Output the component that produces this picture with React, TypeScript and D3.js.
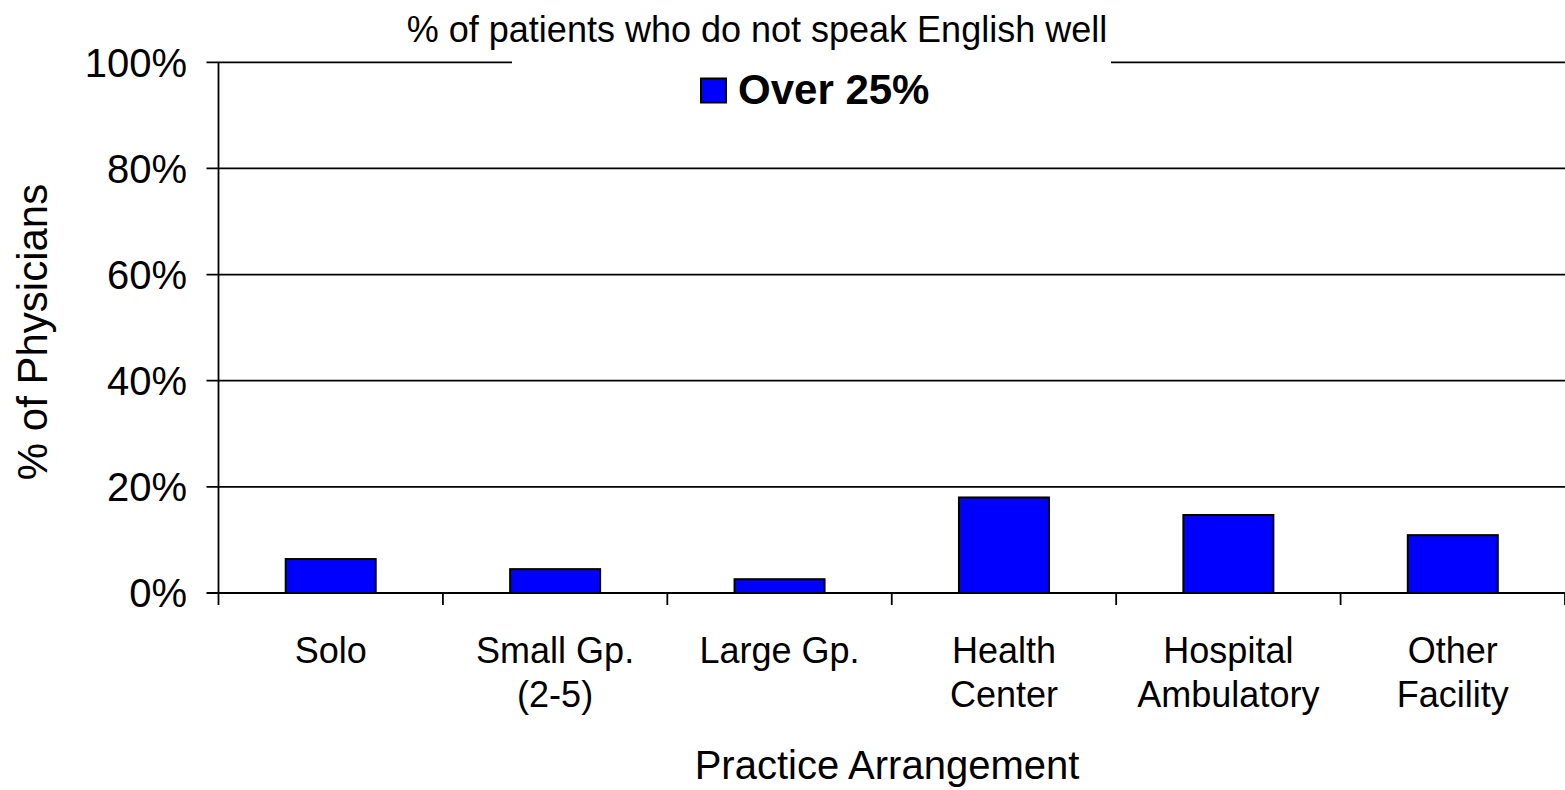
import React from "react";
import * as d3 from "d3";

const categories: string[][] = [
  ["Solo"],
  ["Small Gp.", "(2-5)"],
  ["Large Gp."],
  ["Health", "Center"],
  ["Hospital", "Ambulatory"],
  ["Other", "Facility"],
];
const values: number[] = [6.4, 4.5, 2.6, 18.0, 14.7, 10.9];
const yTicks: number[] = [0, 20, 40, 60, 80, 100];
const title = "% of patients who do not speak English well";
const legendLabel = "Over 25%";
const xTitle = "Practice Arrangement";
const yTitle = "% of Physicians";

const W = 1565;
const H = 790;
const left = 218.5;
const right = 1565;
const top = 62.3;
const bottom = 593;
const font = "'Liberation Sans', Arial, sans-serif";

export default function App() {
  const idx = categories.map((_, i) => i);
  const x = d3.scaleBand<number>().domain(idx).range([left, right]).paddingInner(0).paddingOuter(0);
  const y = d3.scaleLinear().domain([0, 100]).range([bottom, top]);
  const bw = 90;
  const boundaries = d3.range(categories.length + 1).map((i) => left + i * x.bandwidth());

  return (
    <div style={{ position: "fixed", left: 0, top: 0 }}>
      <svg width={W} height={H} style={{ display: "block", background: "#fff" }} fontFamily={font}>
        {yTicks.map((t) => (
          <line key={"g" + t} x1={left - 12} x2={right} y1={y(t)} y2={y(t)} stroke="#000" strokeWidth={1.8} />
        ))}
        <rect x={512} y={y(100) - 4} width={599} height={8} fill="#fff" />
        <line x1={left} x2={left} y1={top} y2={bottom} stroke="#000" strokeWidth={1.8} />
        {boundaries.map((b, i) => (
          <line key={"xt" + i} x1={b} x2={b} y1={bottom} y2={bottom + 12} stroke="#000" strokeWidth={1.8} />
        ))}
        {yTicks.map((t) => (
          <text key={"yl" + t} x={187} y={y(t)} dy="0.36em" textAnchor="end" fontSize={40} fill="#000">
            {t}%
          </text>
        ))}
        {values.map((v, i) => (
          <rect
            key={"b" + i}
            x={(x(i) as number) + (x.bandwidth() - bw) / 2}
            y={y(v)}
            width={bw}
            height={bottom - y(v)}
            fill="#0000FF"
            stroke="#000"
            strokeWidth={2}
          />
        ))}
        {categories.map((lines, i) => (
          <text key={"c" + i} x={(x(i) as number) + x.bandwidth() / 2} y={663} textAnchor="middle" fontSize={36} fill="#000">
            {lines.map((l, j) => (
              <tspan key={j} x={(x(i) as number) + x.bandwidth() / 2} dy={j === 0 ? 0 : 44}>
                {l}
              </tspan>
            ))}
          </text>
        ))}
        <text x={757} y={42} textAnchor="middle" fontSize={36} fill="#000">
          {title}
        </text>
        <rect x={701} y={78.5} width={25} height={24} fill="#0000FF" stroke="#000" strokeWidth={2} />
        <text x={738} y={104} fontSize={42} fontWeight="bold" fill="#000">
          {legendLabel}
        </text>
        <text x={887} y={779} textAnchor="middle" fontSize={40} fill="#000">
          {xTitle}
        </text>
        <text transform={`translate(47, 332) rotate(-90)`} textAnchor="middle" fontSize={42} fill="#000">
          {yTitle}
        </text>
      </svg>
    </div>
  );
}
